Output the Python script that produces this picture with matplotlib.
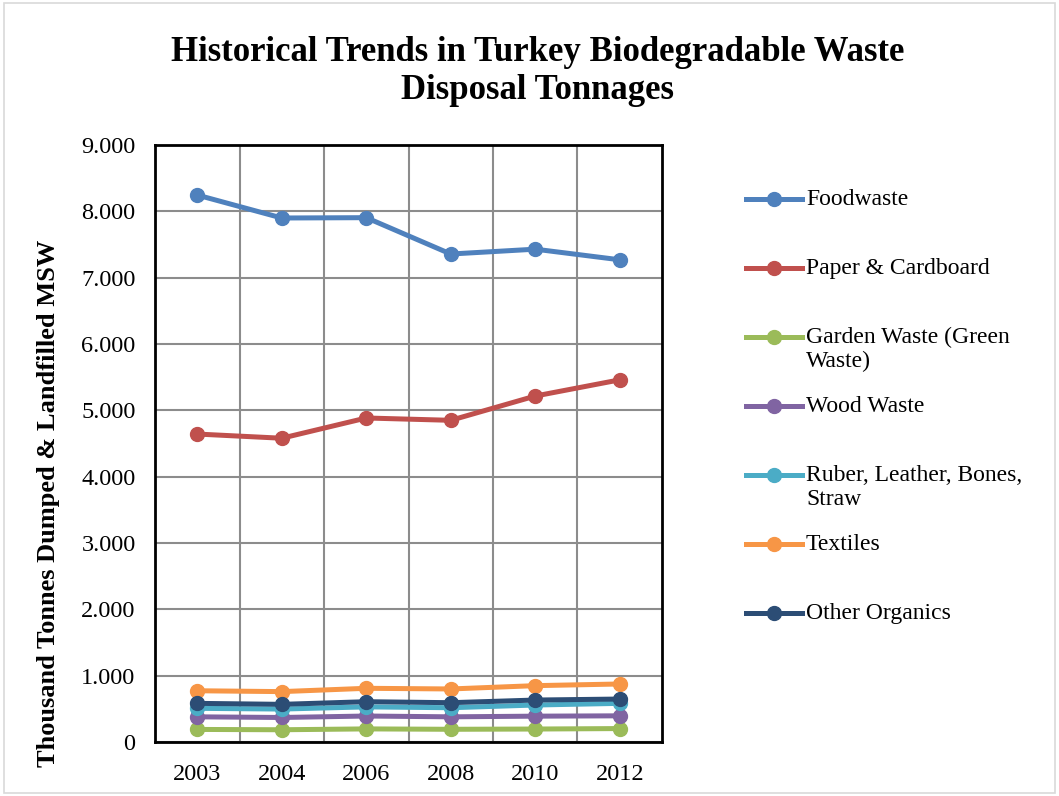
import matplotlib
matplotlib.use("Agg")
import matplotlib.pyplot as plt
from matplotlib.lines import Line2D
from matplotlib.patches import Rectangle
from matplotlib.ticker import FuncFormatter, MultipleLocator

plt.rcParams['font.family'] = ['Liberation Serif', 'DejaVu Serif']

years = ["2003", "2004", "2006", "2008", "2010", "2012"]

foodwaste = [8246, 7900, 7905, 7357, 7430, 7270]
paper_cardboard = [4643, 4580, 4885, 4850, 5216, 5460]
garden_waste = [190, 185, 198, 192, 196, 203]
wood_waste = [380, 370, 392, 380, 390, 395]
ruber_leather = [508, 497, 530, 517, 558, 583]
textiles = [773, 760, 810, 800, 850, 875]
other_organics = [583, 568, 608, 593, 633, 648]

labels = ["Foodwaste", "Paper & Cardboard", "Garden Waste (Green\nWaste)",
          "Wood Waste", "Ruber, Leather, Bones,\nStraw", "Textiles", "Other Organics"]
colors = ["#4f81bd", "#c0504d", "#9bbb59", "#8064a2", "#4bacc6", "#f79646", "#2c4d75"]
series = [foodwaste, paper_cardboard, garden_waste, wood_waste,
          ruber_leather, textiles, other_organics]

fig = plt.figure(figsize=(10.59, 7.96), dpi=100)
fig.patches.append(Rectangle((0.004, 0.004), 0.992, 0.992, transform=fig.transFigure,
                             fill=False, edgecolor="#d9d9d9", linewidth=1.2))

ax = fig.add_axes([0.1464, 0.0678, 0.4787, 0.750])
x = list(range(len(years)))
for vals, c in zip(series, colors):
    ax.plot(x, vals, color=c, linewidth=3.6, marker="o", markersize=10, zorder=3,
            solid_capstyle="round")

ax.set_xlim(-0.5, len(years) - 0.5)
ax.set_ylim(0, 9000)
ax.yaxis.set_major_locator(MultipleLocator(1000))
ax.yaxis.set_major_formatter(FuncFormatter(
    lambda v, p: "0" if v == 0 else f"{int(v):,}".replace(",", ".")))
ax.set_xticks(x)
ax.set_xticklabels(years)
ax.set_xticks([i + 0.5 for i in x[:-1]], minor=True)
ax.grid(axis="y", which="major", color="#8c8c8c", linewidth=1.5, zorder=0)
ax.grid(axis="x", which="minor", color="#8c8c8c", linewidth=1.5, zorder=0)
ax.grid(axis="x", which="major", visible=False)
ax.tick_params(axis="both", which="both", length=0, labelsize=17.5)
ax.tick_params(axis="x", pad=16)
ax.tick_params(axis="y", pad=14)
for s in ax.spines.values():
    s.set_linewidth(2)
    s.set_color("black")

ax.set_ylabel("Thousand Tonnes Dumped & Landfilled MSW", fontsize=19,
              fontweight="bold")
ax.yaxis.set_label_coords(-0.188, 0.40)

fig.text(0.508, 0.91, "Historical Trends in Turkey Biodegradable Waste\nDisposal Tonnages",
         ha="center", va="center", fontsize=25, fontweight="bold", linespacing=1.2)

# legend entries, evenly spaced down the right side
y0 = 1 - 199 / 796
step = 69 / 796
for i, (lab, c) in enumerate(zip(labels, colors)):
    yy = y0 - i * step
    fig.add_artist(Line2D([746 / 1059, 802 / 1059], [yy, yy], color=c, linewidth=3.6,
                          transform=fig.transFigure))
    fig.add_artist(Line2D([774 / 1059], [yy], color=c, marker="o", markersize=10,
                          transform=fig.transFigure))
    fig.text(806 / 1059, yy + 0.013, lab, ha="left", va="top", fontsize=17,
             linespacing=1.2)

fig.savefig("out.png", dpi=100)
